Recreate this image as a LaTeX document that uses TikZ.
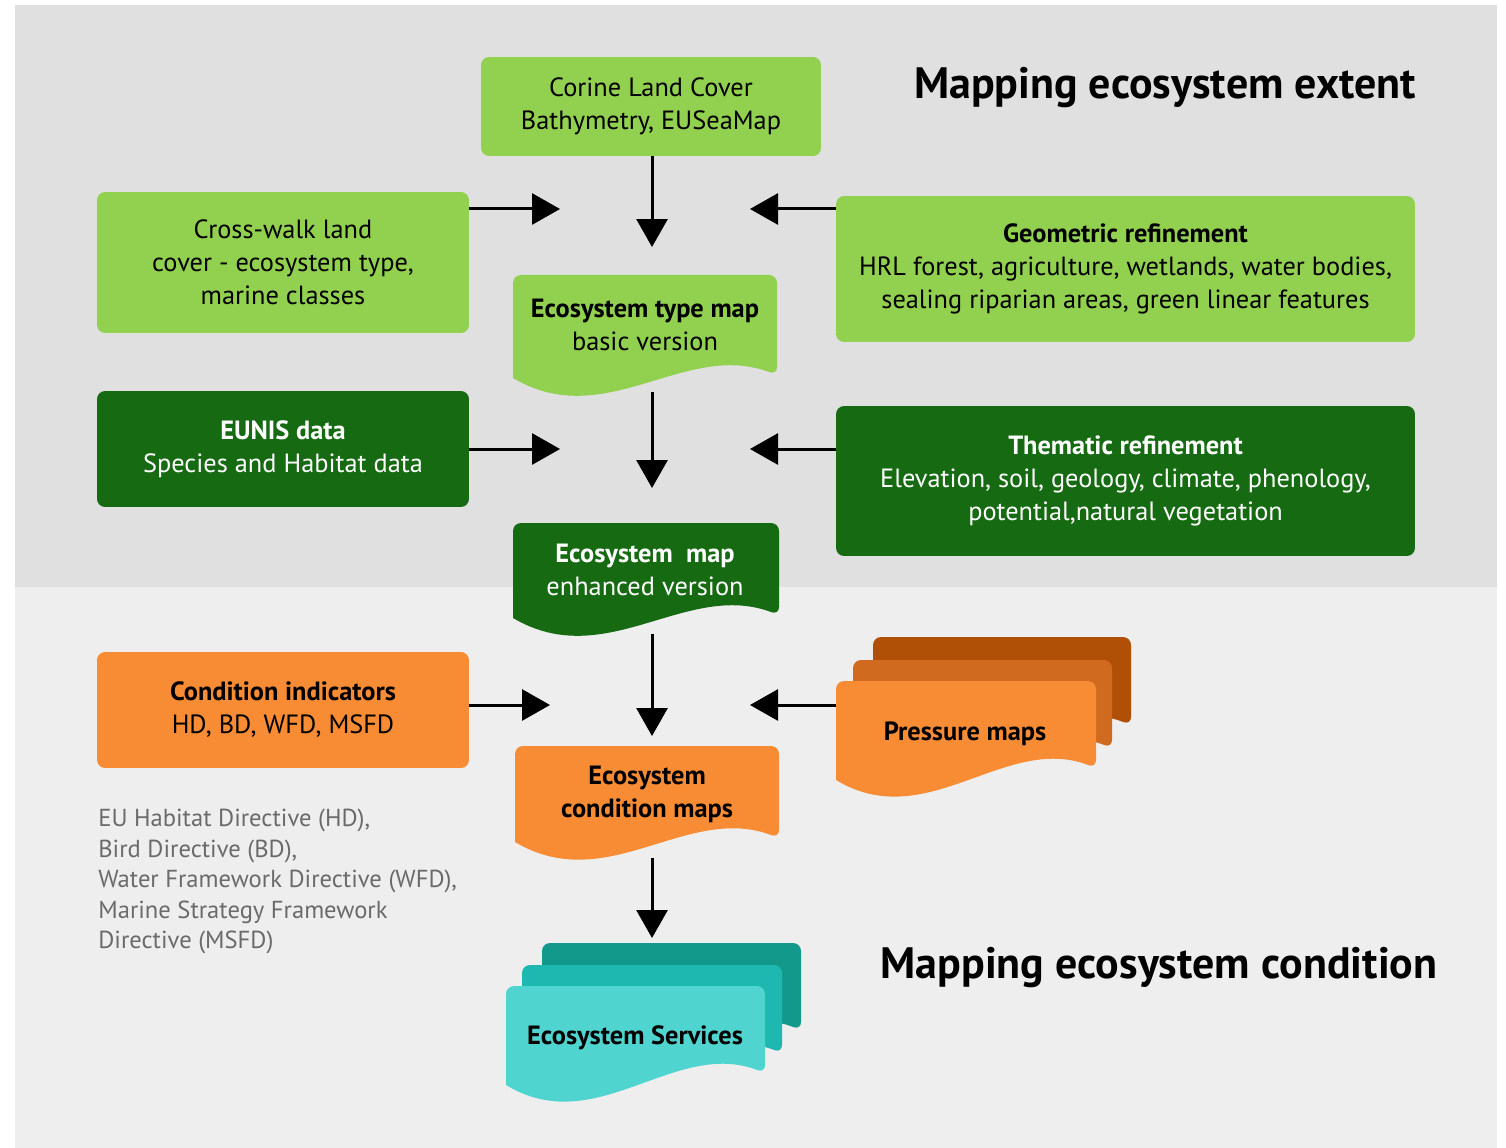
\documentclass[tikz,border=0pt]{standalone}
\usepackage{fontspec}
\setmainfont{PT Sans}
\usetikzlibrary{arrows.meta}

\definecolor{bgtop}{HTML}{E0E0E0}
\definecolor{bgbot}{HTML}{EEEEEE}
\definecolor{lgreen}{HTML}{92D050}
\definecolor{dgreen}{HTML}{156A12}
\definecolor{orangeA}{HTML}{F78C34}
\definecolor{orangeB}{HTML}{D06A1E}
\definecolor{orangeC}{HTML}{B04F06}
\definecolor{tealA}{HTML}{50D4D0}
\definecolor{tealB}{HTML}{1FB8B0}
\definecolor{tealC}{HTML}{12998C}
\definecolor{notegray}{HTML}{6A6A6A}

\tikzset{
  box/.style={rectangle, rounded corners=0.16cm, align=center, inner sep=0pt,
    font=\fontsize{15}{18.8}\selectfont},
  doctext/.style={align=center, inner sep=0pt, font=\fontsize{15}{18.8}\selectfont},
  heading/.style={inner sep=0pt, font=\fontsize{25}{29}\selectfont\bfseries},
  flow/.style={line width=0.06cm, -{Triangle[length=0.56cm,width=0.62cm]}},
}

% fill, left, top, right, bottom right, bottom left
\newcommand{\wavedoc}[6]{%
  \fill[#1, rounded corners=0.16cm] (#2,#6) -- (#2,#3) -- (#4,#3) -- (#4,#5)
    .. controls ({#4-0.35*(#4-#2)},{#5-35}) and ({#2+0.35*(#4-#2)},{#6+55}) .. (#2,#6);}

\begin{document}
\begin{tikzpicture}[x=0.02cm,y=-0.02cm]
  \useasboundingbox (0,0) rectangle (1506,1148);
  \fill[bgtop] (15,5) rectangle (1497,587);
  \fill[bgbot] (15,587) rectangle (1497,1148);

  % headings
  \node[heading] (extent) at (1165,88) {Mapping ecosystem extent};
  \node[heading] (condition) at (1159,968) {Mapping ecosystem condition};

  % input boxes
  \node[box, fill=lgreen, minimum width=6.8cm, minimum height=1.98cm] (corine) at (651,106.5)
    {Corine Land Cover\\Bathymetry, EUSeaMap};
  \node[box, fill=lgreen, minimum width=7.44cm, minimum height=2.82cm] (crosswalk) at (283,262.5)
    {Cross-walk land\\cover - ecosystem type,\\marine classes};
  \node[box, fill=lgreen, minimum width=11.58cm, minimum height=2.92cm] (geometric) at (1125.5,269)
    {{\bfseries Geometric refinement}\\HRL forest, agriculture, wetlands, water bodies,\\sealing riparian areas, green linear features};
  \node[box, fill=dgreen, text=white, minimum width=7.44cm, minimum height=2.32cm] (eunis) at (283,449)
    {{\bfseries EUNIS data}\\Species and Habitat data};
  \node[box, fill=dgreen, text=white, minimum width=11.58cm, minimum height=3cm] (thematic) at (1125.5,481)
    {{\bfseries Thematic refinement}\\Elevation, soil, geology, climate, phenology,\\potential,natural vegetation};
  \node[box, fill=orangeA, minimum width=7.44cm, minimum height=2.32cm] (indicators) at (283,710)
    {{\bfseries Condition indicators}\\HD, BD, WFD, MSFD};

  \node[doctext, anchor=north west, align=left, text=notegray, font=\fontsize{14}{17.3}\selectfont] (directives) at (98,809)
    {EU Habitat Directive (HD),\\Bird Directive (BD),\\Water Framework Directive (WFD),\\Marine Strategy Framework\\Directive (MSFD)};

  % map documents
  \wavedoc{lgreen}{513}{275}{777}{375}{378}
  \node[doctext] (typemap) at (645,324.5) {{\bfseries Ecosystem type map}\\basic version};
  \wavedoc{dgreen}{513}{523}{779}{615}{618}
  \node[doctext, text=white] (enhanced) at (645,569.5) {{\bfseries Ecosystem~ map}\\enhanced version};
  \wavedoc{orangeA}{515}{746}{779}{838}{842}
  \node[doctext, font=\fontsize{15}{18.8}\selectfont\bfseries] (condmaps) at (647,794.5) {Ecosystem\\condition maps};

  \wavedoc{orangeC}{873}{637}{1131}{725}{737}
  \wavedoc{orangeB}{853}{660}{1112}{748}{760}
  \wavedoc{orangeA}{836}{681}{1096}{768}{780}
  \node[doctext, font=\fontsize{15}{18.8}\selectfont\bfseries] (pressure) at (965,734) {Pressure maps};

  \wavedoc{tealC}{542}{943}{801}{1030}{1042}
  \wavedoc{tealB}{522}{965}{782}{1053}{1065}
  \wavedoc{tealA}{506}{986}{765}{1073}{1085}
  \node[doctext, font=\fontsize{15}{18.8}\selectfont\bfseries] (services) at (635,1038) {Ecosystem Services};

  % arrow ends
  \coordinate (c1) at (652,247);
  \coordinate (c2) at (560,209);
  \coordinate (c3) at (750,209);
  \coordinate (t0) at (652,392);
  \coordinate (c4) at (652,488);
  \coordinate (c5) at (560,449);
  \coordinate (c6) at (750,449);
  \coordinate (e0) at (652,634);
  \coordinate (c7) at (652,736);
  \coordinate (c8) at (550,705);
  \coordinate (c9) at (750,705);
  \coordinate (m0) at (652,858);
  \coordinate (c10) at (652,938);

  \begin{scope}[flow]
    \draw (corine.south -| c1) -- (c1);
    \draw (crosswalk.east |- c2) -- (c2);
    \draw (geometric.west |- c3) -- (c3);
    \draw (t0) -- (c4);
    \draw (eunis.east |- c5) -- (c5);
    \draw (thematic.west |- c6) -- (c6);
    \draw (e0) -- (c7);
    \draw (indicators.east |- c8) -- (c8);
    \draw (836,705) -- (c9);
    \draw (m0) -- (c10);
  \end{scope}
\end{tikzpicture}
\end{document}
